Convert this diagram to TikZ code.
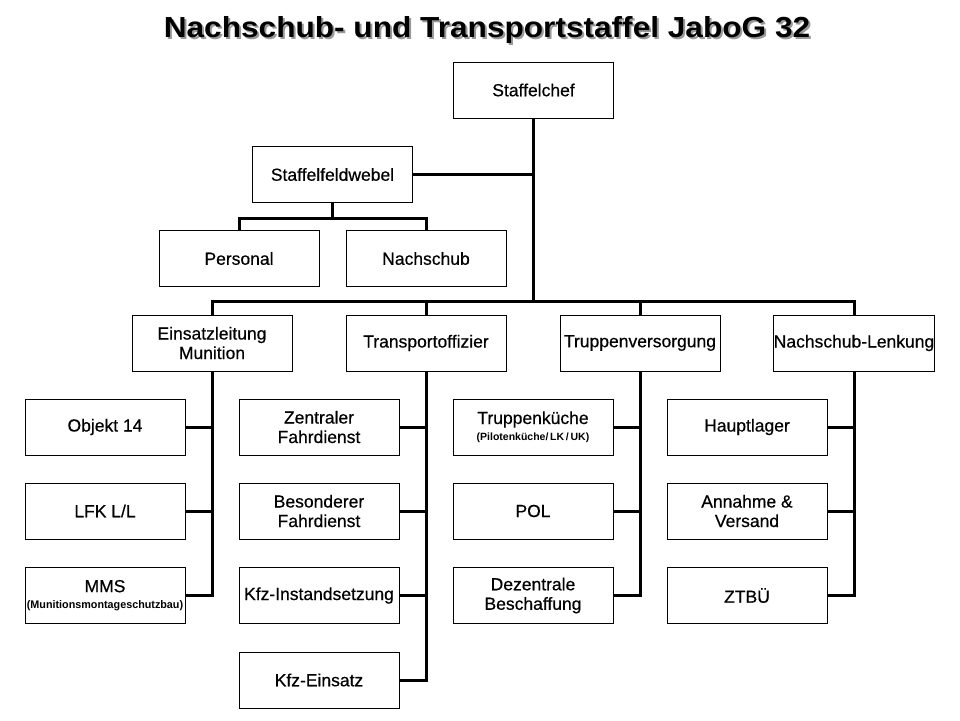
\documentclass[tikz,border=0pt]{standalone}
\usepackage{fontspec}
\setmainfont{Liberation Sans}
\newfontfamily\unitfont{Liberation Sans}[FakeBold=0.5]
\usetikzlibrary{calc}

\newcommand\titletext{\scalebox{1.09}[1]{Nachschub- und Transportstaffel JaboG 32}}

\begin{document}
\begin{tikzpicture}[x=1pt,y=-1pt,
  unit/.style={draw,line width=1pt,minimum width=160pt,minimum height=56pt,inner sep=0pt,align=center,
    font=\unitfont\fontsize{17.5}{19.5}\selectfont},
  link/.style={line width=3pt}]
\useasboundingbox (0,0) rectangle (960,720);

% title with its grey shadow
\node [anchor=base,font=\fontsize{29}{30}\selectfont\bfseries] (title) at (487,37)
  {\rlap{\hspace{2pt}\raisebox{-2pt}{\textcolor{black!40}{\titletext}}}\titletext};

\node [unit] at (533.5,90) (chef) {Staffelchef};

\node [unit] at (332.5,174.5) (feldw) {Staffelfeldwebel};
\node [unit] at (239,258.5) (pers) {Personal};
\node [unit] at (426,258.5) (nach) {Nachschub};

\node [unit] at (212,343) (einsatz) {Einsatzleitung\\Munition};
\node [unit] at (426,343) (transp) {Transportoffizier};
\node [unit] at (640,343) (truppen) {Truppenversorgung};
\node [unit] at (854,343) (lenk) {Nachschub-Lenkung};

\node [unit] at (105,427) (objekt) {Objekt 14};
\node [unit] at (105,511) (lfk) {LFK L/L};
\node [unit] at (105,595.5) (mms) {MMS\\[-3pt]{\rmfamily\fontsize{11}{12}\selectfont\bfseries\scalebox{0.98}[1]{(Munitionsmontageschutzbau)}}};

\node [unit] at (319,427) (zentral) {Zentraler\\Fahrdienst};
\node [unit] at (319,511) (besond) {Besonderer\\Fahrdienst};
\node [unit] at (319,595.5) (kfzinst) {Kfz-Instandsetzung};
\node [unit] at (319,680) (kfzeins) {Kfz-Einsatz};

\node [unit] at (533,427) (kueche) {Truppenküche\\[-3pt]{\rmfamily\fontsize{10.5}{12}\selectfont\bfseries(Pilotenküche/\,LK\,/\,UK)}};
\node [unit] at (533,511) (pol) {POL};
\node [unit] at (533,595.5) (dezent) {Dezentrale\\Beschaffung};

\node [unit] at (747,427) (haupt) {Hauptlager};
\node [unit] at (747,511) (annahme) {Annahme \&\\Versand};
\node [unit] at (747,595.5) (ztbu) {ZTBÜ};

\coordinate (bar) at (533.5,301);

\draw [link] (chef.south) -- (bar);
\draw [link] (feldw.east) -- (feldw.east -| chef.south);
\draw [link] (feldw.south) -- ++(0,15) -| (pers.north);
\draw [link] (feldw.south) -- ++(0,15) -| (nach.north);

\draw [link] (einsatz.north) |- (bar) -| (lenk.north);
\draw [link] (transp.north) -- (transp.north |- bar);
\draw [link] (truppen.north) -- (truppen.north |- bar);

\draw [link] (einsatz.south) |- (mms.east);
\draw [link] (objekt.east) -- (objekt.east -| einsatz.south);
\draw [link] (lfk.east) -- (lfk.east -| einsatz.south);

\draw [link] (transp.south) |- (kfzeins.east);
\draw [link] (zentral.east) -- (zentral.east -| transp.south);
\draw [link] (besond.east) -- (besond.east -| transp.south);
\draw [link] (kfzinst.east) -- (kfzinst.east -| transp.south);

\draw [link] (truppen.south) |- (dezent.east);
\draw [link] (kueche.east) -- (kueche.east -| truppen.south);
\draw [link] (pol.east) -- (pol.east -| truppen.south);

\draw [link] (lenk.south) |- (ztbu.east);
\draw [link] (haupt.east) -- (haupt.east -| lenk.south);
\draw [link] (annahme.east) -- (annahme.east -| lenk.south);
\end{tikzpicture}
\end{document}
